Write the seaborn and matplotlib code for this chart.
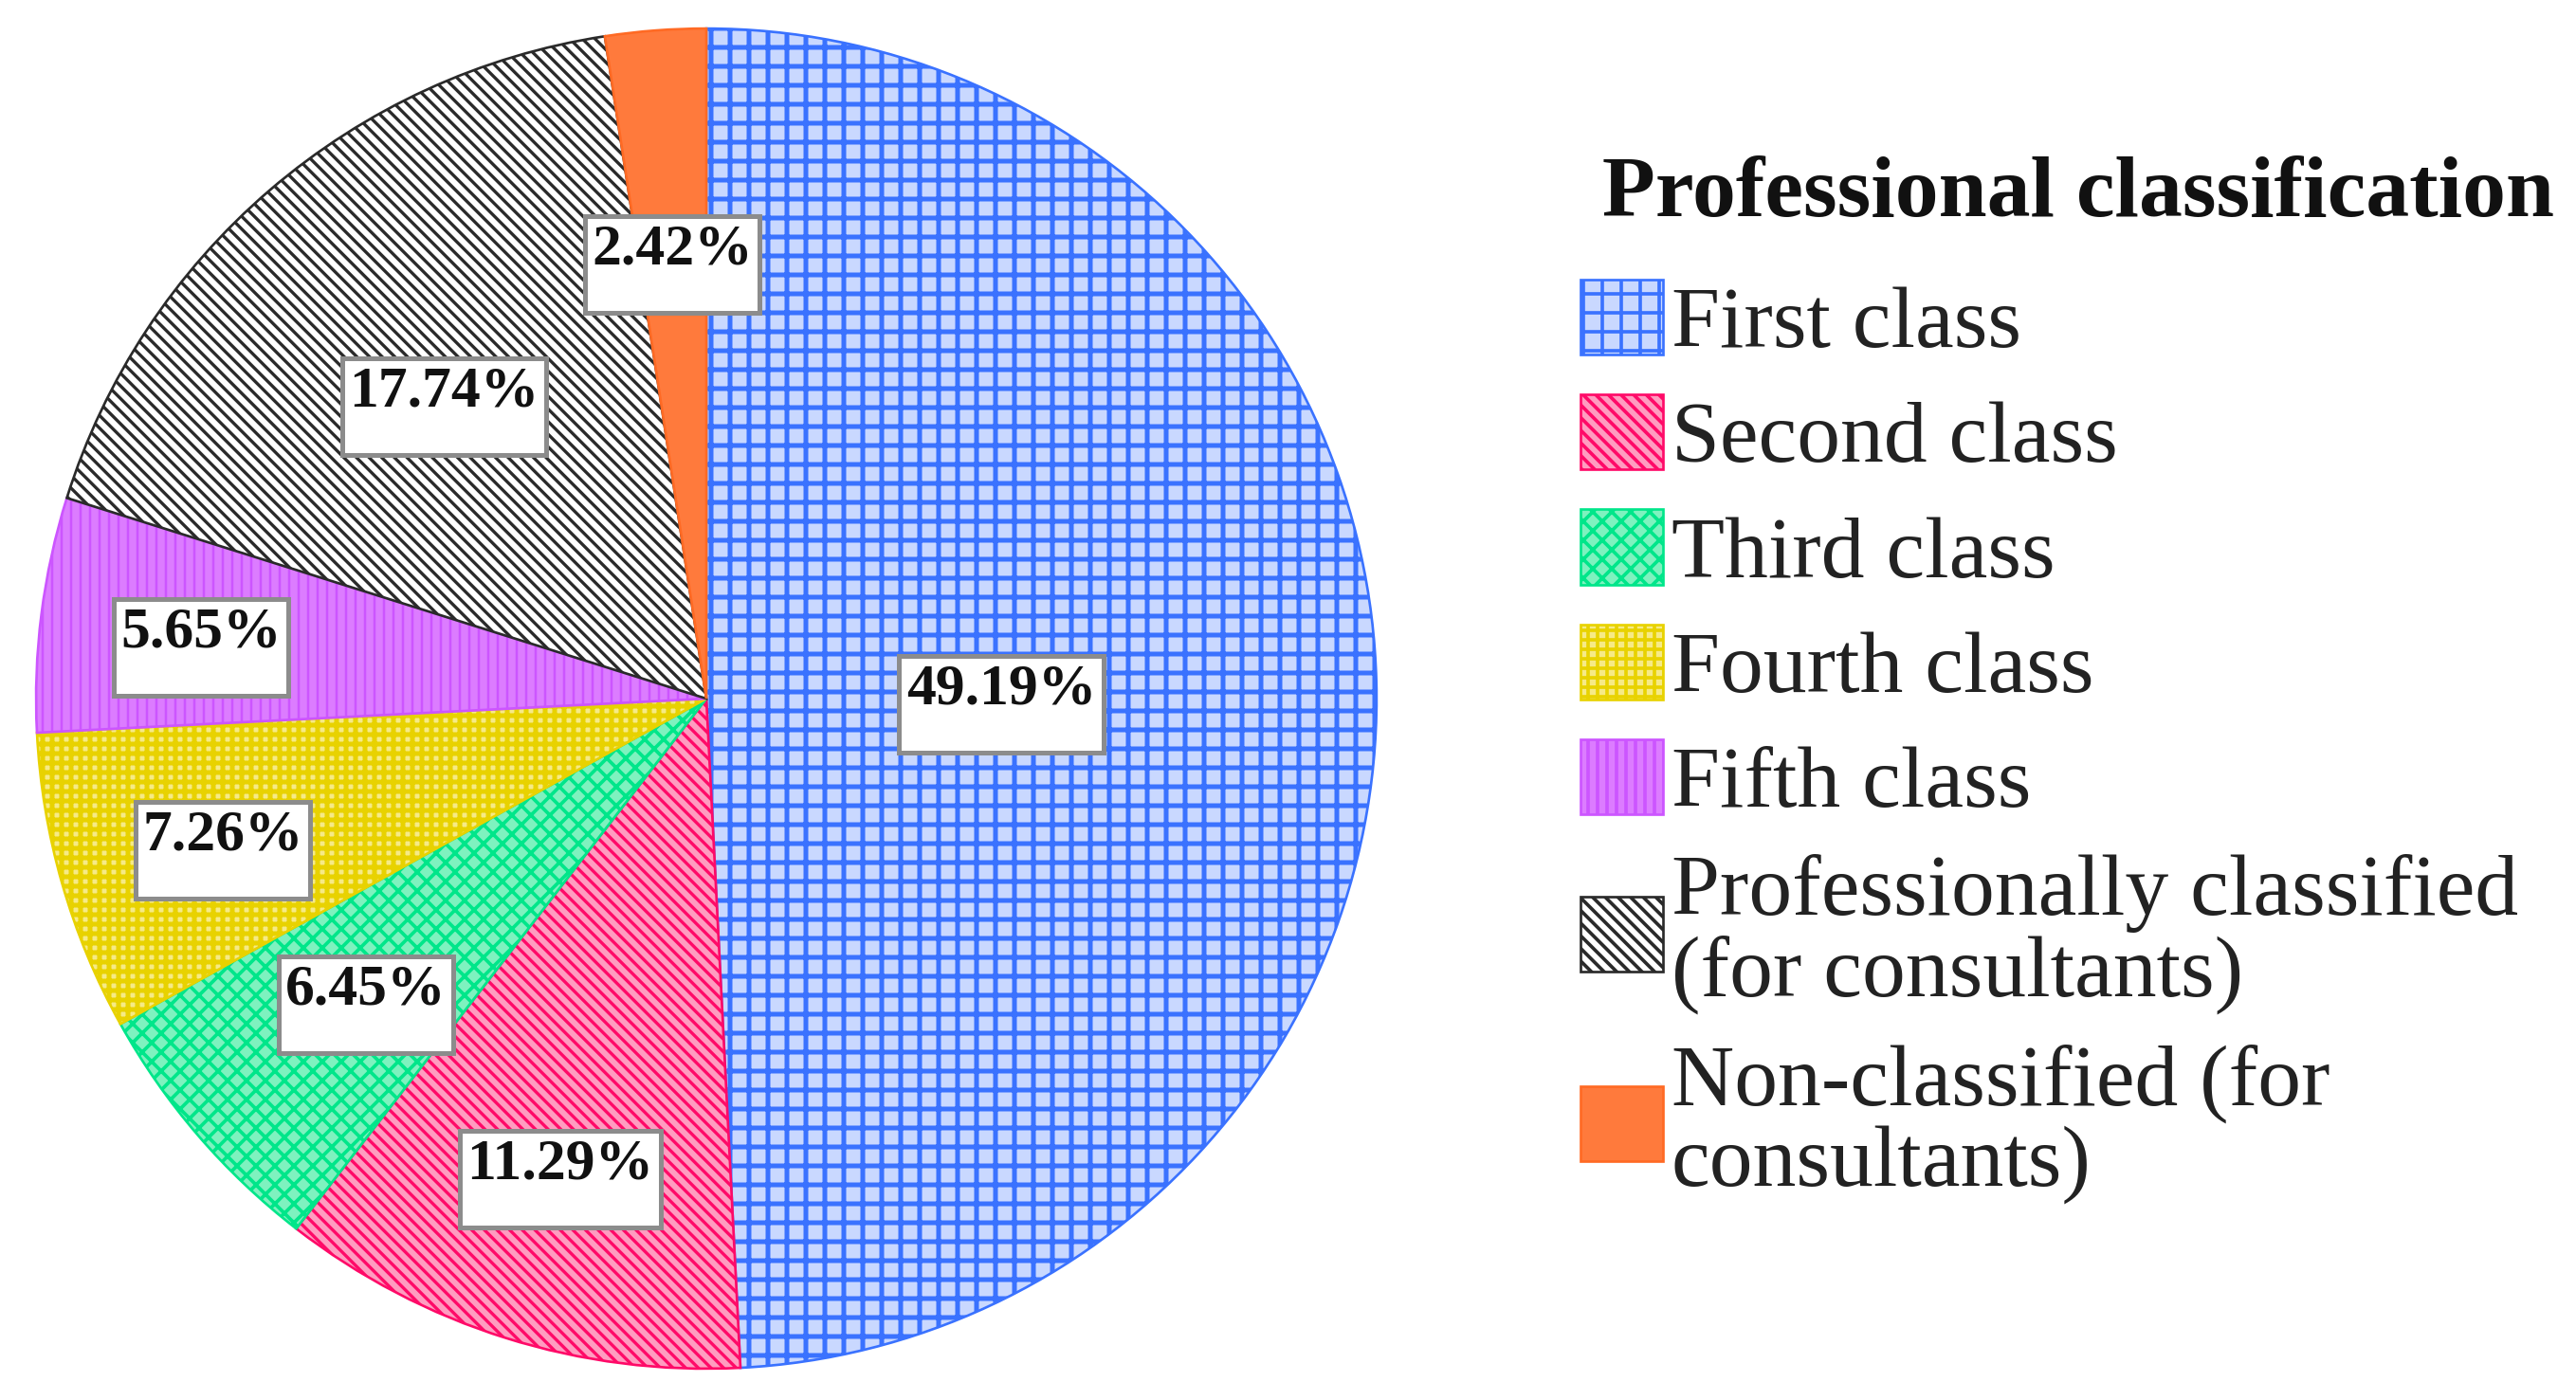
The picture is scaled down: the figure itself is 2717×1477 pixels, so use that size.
import numpy as np
import matplotlib
matplotlib.use("Agg")
import matplotlib.pyplot as plt
import seaborn as sns

# data
classes = ["First class", "Second class", "Third class", "Fourth class", "Fifth class",
           "Professionally classified\n(for consultants)", "Non-classified (for\nconsultants)"]
shares = [49.19, 11.29, 6.45, 7.26, 5.65, 17.74, 2.42]

# styling per slice
face_colors = ["#c9d8ff", "#ff9cc0", "#7ef2bf", "#f6ea86", "#dc7cff", "#ffffff", "#ff7a3c"]
hatch_colors = ["#3a72ff", "#ff0a68", "#00e68a", "#e8d200", "#cc55ff", "#2a2a2a", "#ff6a24"]
hatches = ["+", "\\\\\\", "xx", "++", "||", "\\\\\\", ""]
hatch_widths = [3.0, 2.0, 2.2, 3.0, 1.5, 2.0, 1.0]
label_dist = [0.44, 0.73, 0.67, 0.75, 0.76, 0.60, 0.67]

sns.set_theme(style="white")
plt.rcParams["font.family"] = ["Liberation Serif", "DejaVu Serif"]
plt.rcParams["hatch.linewidth"] = 2.2

fig = plt.figure(figsize=(2717 / 120, 1477 / 120), dpi=120)
ax = fig.add_axes([0.0114, 0.0176, 0.5256, 0.9668])

wedges, _ = ax.pie(shares, startangle=90, counterclock=False,
                   colors=face_colors, labels=None,
                   wedgeprops=dict(linewidth=1.6))
for w, ec, h, hw in zip(wedges, hatch_colors, hatches, hatch_widths):
    w.set_edgecolor(ec)
    w.set_hatch(h)
    if hasattr(w, "set_hatch_linewidth"):
        w.set_hatch_linewidth(hw)

for w, val, d in zip(wedges, shares, label_dist):
    mid = np.deg2rad((w.theta1 + w.theta2) / 2)
    ax.text(d * np.cos(mid), d * np.sin(mid) - 0.02, f"{val:.2f}%\n",
            ha="center", va="center", fontsize=37, fontweight="bold", color="#111111",
            linespacing=0.42,
            bbox=dict(boxstyle="square,pad=0.12", facecolor="white",
                      edgecolor="#8c8c8c", linewidth=3))

ax.set_xlim(-1.01, 1.01)
ax.set_ylim(-1.01, 1.01)
ax.set_aspect("equal")
ax.axis("off")

leg = fig.legend(wedges, classes, title=" Professional classification",
                 loc="upper left", bbox_to_anchor=(0.583, 0.944),
                 frameon=False, fontsize=55, title_fontsize=55,
                 handlelength=0.95, handleheight=0.95, handletextpad=0.1,
                 labelspacing=0.34, alignment="left")
leg.get_title().set_fontweight("bold")
leg.get_title().set_color("#111111")
for t in leg.get_texts():
    t.set_color("#222222")
    t.set_linespacing(1.04)
# a bit more room between the title and the first entry
if hasattr(leg, "_legend_box"):
    leg._legend_box.sep = 0.34 * 55 + 10

fig.savefig("out.png", dpi=120, facecolor="white")
